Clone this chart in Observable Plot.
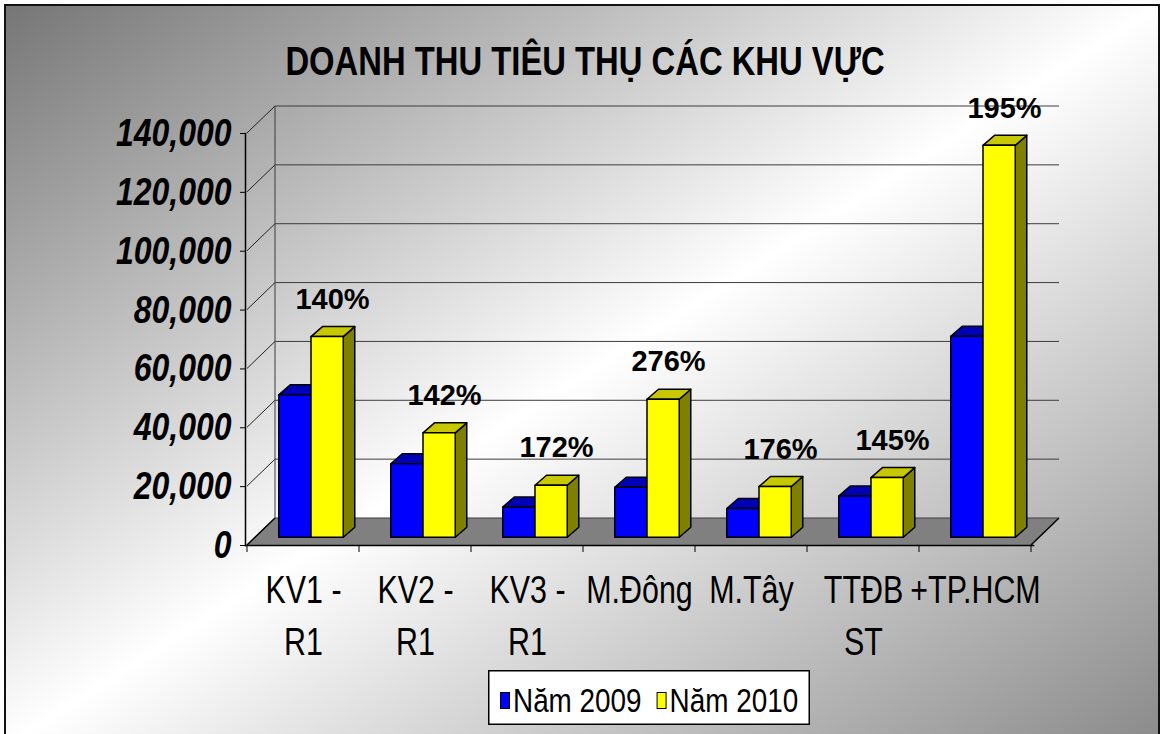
<!DOCTYPE html>
<html>
<head>
<meta charset="utf-8">
<script src="https://cdn.jsdelivr.net/npm/d3@7"></script>
<script src="https://cdn.jsdelivr.net/npm/@observablehq/plot@0.6"></script>
<style>
  html, body { margin: 0; padding: 0; width: 1160px; height: 734px; overflow: hidden; background: #fff; }
  #bg { position: absolute; left: 4px; top: 4px; width: 1152px; height: 740px; border: 2px solid #111;
        background: linear-gradient(to bottom right, #767676 0%, #ffffff 50%, #8a8a8a 100%); }
  #title { position: absolute; left: 0; top: 0; width: 1160px; height: 95px; }
  #chart { position: absolute; left: 0; top: 95px; }
  #legend { position: absolute; left: 488px; top: 670px; width: 322px; height: 55px; }
</style>
</head>
<body>
<div id="bg"></div>
<div id="title"></div>
<div id="chart"></div>
<div id="legend"></div>
<script>
// ---- data ----
const chartTitle = "DOANH THU TIÊU THỤ CÁC KHU VỰC";
const categories = ["KV1 - R1", "KV2 - R1", "KV3 - R1", "M.Đông", "M.Tây", "TTĐBST", "+TP.HCM"];
const categoryLabels = ["KV1 -\nR1", "KV2 -\nR1", "KV3 -\nR1", "M.Đông", "M.Tây", "TTĐB\nST", "+TP.HCM"];
const seriesNames = ["Năm 2009", "Năm 2010"];
const values2009 = [48400, 25000, 10300, 17000, 9800, 14000, 68300];
const values2010 = [68200, 35500, 17700, 46900, 17250, 20300, 133200];
const growthLabels = ["140%", "142%", "172%", "276%", "176%", "145%", "195%"];
const yTicks = [0, 20000, 40000, 60000, 80000, 100000, 120000, 140000];

// ---- styles ----
const font = '"Liberation Sans", Arial, sans-serif';
const narrowScale = 0.82; // Arial Narrow look: Liberation Sans squeezed horizontally
const seriesStyle = [
  {front: "#0000ff", top: "#0000b4", side: "#000080"},
  {front: "#ffff00", top: "#c8c800", side: "#808000"}
];
const seriesValues = [values2009, values2010];
const wallDepth = [28, -27];   // 3D offset of back wall (px)
const barShift = [8, -7.7];    // depth position of bar front faces (px)
const barDepth = [11.5, -10];  // depth of each bar (px)

function narrowText(t, s) {
  const tr = t.getAttribute("transform") || "";
  if (/translate/.test(tr)) {
    t.setAttribute("transform", tr + ` scale(${s},1)`);
  } else {
    const x = parseFloat(t.getAttribute("x")) || 0;
    t.setAttribute("transform", `${tr} translate(${x},0) scale(${s},1) translate(${-x},0)`);
  }
}

// ---- title ----
{
  const svg = d3.select("#title").append("svg").attr("width", 1160).attr("height", 95);
  svg.append("text")
    .attr("transform", `translate(585,75) scale(${narrowScale},1)`)
    .attr("text-anchor", "middle")
    .attr("font-family", font).attr("font-weight", "bold").attr("font-size", 40)
    .text(chartTitle);
}

function bandwidthOf(x, dims) {
  return x.bandwidth ? x.bandwidth() : (dims.width - dims.marginLeft - dims.marginRight) / categories.length;
}
function poly(g, pts, fill, stroke, sw) {
  g.append("path")
    .attr("d", "M" + pts.map(p => p.join(",")).join("L") + "Z")
    .attr("fill", fill)
    .attr("stroke", stroke || "none")
    .attr("stroke-width", sw || 0)
    .attr("stroke-linejoin", "round");
}
function line(g, a, b, stroke, sw) {
  g.append("line").attr("x1", a[0]).attr("y1", a[1]).attr("x2", b[0]).attr("y2", b[1])
    .attr("stroke", stroke).attr("stroke-width", sw);
}

// walls, floor, gridlines
function walls(index, scales, values, dims) {
  const {x, y} = scales;
  const bw = bandwidthOf(x, dims);
  const X0 = x(categories[0]), X1 = x(categories[categories.length - 1]) + bw;
  const [dx, dy] = wallDepth;
  const g = d3.create("svg:g");
  const y0 = y(0);
  poly(g, [[X0, y0], [X0 + dx, y0 + dy], [X1 + dx, y0 + dy], [X1, y0]], "#808080");
  for (const t of yTicks) {
    const yt = y(t);
    line(g, [X0 + dx, yt + dy], [X1 + dx, yt + dy], "#3c3c3c", 1);
    line(g, [X0, yt], [X0 + dx, yt + dy], "#222", 1);
  }
  line(g, [X0 + dx, y0 + dy], [X0 + dx, y(yTicks[yTicks.length - 1]) + dy], "#3c3c3c", 1);
  line(g, [X0, y0], [X0 + dx, y0 + dy], "#000", 1.5);
  line(g, [X1, y0], [X1 + dx, y0 + dy], "#000", 1.5);
  for (let k = 0; k <= categories.length; k++) {
    const xx = X0 + k * bw;
    line(g, [xx, y0], [xx, y0 + 7], "#000", 1);
  }
  return g.node();
}

// 3D bars
function bars3d(index, scales, values, dims) {
  const {x, y} = scales;
  const bw = bandwidthOf(x, dims);
  const barW = 0.288 * bw, gap = (bw - 2 * barW) / 2;
  const [ddx, ddy] = barDepth;
  const g = d3.create("svg:g");
  categories.forEach((c, i) => {
    seriesValues.forEach((vals, j) => {
      const st = seriesStyle[j];
      const x0 = x(c) + gap + j * barW + barShift[0];
      const x1 = x0 + barW;
      const yb = y(0) + barShift[1];
      const yt = y(vals[i]) + barShift[1];
      poly(g, [[x1, yb], [x1 + ddx, yb + ddy], [x1 + ddx, yt + ddy], [x1, yt]], st.side, "#000", 1.5);
      poly(g, [[x0, yt], [x1, yt], [x1 + ddx, yt + ddy], [x0 + ddx, yt + ddy]], st.top, "#000", 1.5);
      poly(g, [[x0, yb], [x0, yt], [x1, yt], [x1, yb]], st.front, "#000", 1.5);
    });
  });
  return g.node();
}

const plot = Plot.plot({
  width: 1160,
  height: 577,
  marginLeft: 245,
  marginRight: 127,
  marginTop: 38,
  marginBottom: 127,
  style: {background: "transparent", overflow: "visible", fontFamily: font},
  x: {type: "band", domain: categories, padding: 0, axis: null},
  y: {domain: [0, 140000], label: null},
  marks: [
    walls,
    Plot.frame({anchor: "left", stroke: "#000", strokeWidth: 1.5}),
    Plot.frame({anchor: "bottom", stroke: "#000", strokeWidth: 1.5}),
    Plot.axisY({
      ticks: yTicks, tickSize: 5, tickPadding: 9, tickFormat: d3.format(","),
      fontSize: 39, fontWeight: "bold", fontStyle: "italic", fontFamily: font, label: null
    }),
    Plot.text(categories, {
      x: d => d, frameAnchor: "bottom", text: (d, i) => categoryLabels[i],
      lineAnchor: "top", lineHeight: 1.36, dy: 21, fontSize: 38, fontFamily: font, fill: "#000"
    }),
    bars3d,
    Plot.text(categories, {
      x: d => d, y: (d, i) => values2010[i], text: (d, i) => growthLabels[i],
      dx: 29, dy: -36, lineAnchor: "bottom", fontSize: 29, fontWeight: "bold", fontFamily: font, fill: "#000"
    })
  ]
});
document.getElementById("chart").appendChild(plot);
// axis tick labels and category labels use the narrow look; percentage labels stay normal width
plot.querySelectorAll("text").forEach(t => {
  const s = t.textContent.trim();
  if (/%$/.test(s)) return;
  narrowText(t, /^[\d,]+$/.test(s) ? narrowScale : 0.8);
});

// ---- legend ----
{
  const svg = d3.select("#legend").append("svg").attr("width", 322).attr("height", 55);
  svg.append("rect").attr("x", 0.75).attr("y", 0.75).attr("width", 320.5).attr("height", 53.5)
    .attr("fill", "#fff").attr("stroke", "#000").attr("stroke-width", 1.5);
  let cx = 12;
  seriesNames.forEach((name, j) => {
    svg.append("rect").attr("x", cx + 0.5).attr("y", 22.5).attr("width", 9).attr("height", 16)
      .attr("fill", seriesStyle[j].front).attr("stroke", "#000").attr("stroke-width", 1);
    const t = svg.append("text")
      .attr("transform", `translate(${cx + 13},42) scale(${narrowScale},1)`)
      .attr("font-family", font).attr("font-size", 34).attr("fill", "#000")
      .text(name);
    const w = t.node().getComputedTextLength() * narrowScale;
    cx += 13 + w + 15;
  });
}
</script>
</body>
</html>
